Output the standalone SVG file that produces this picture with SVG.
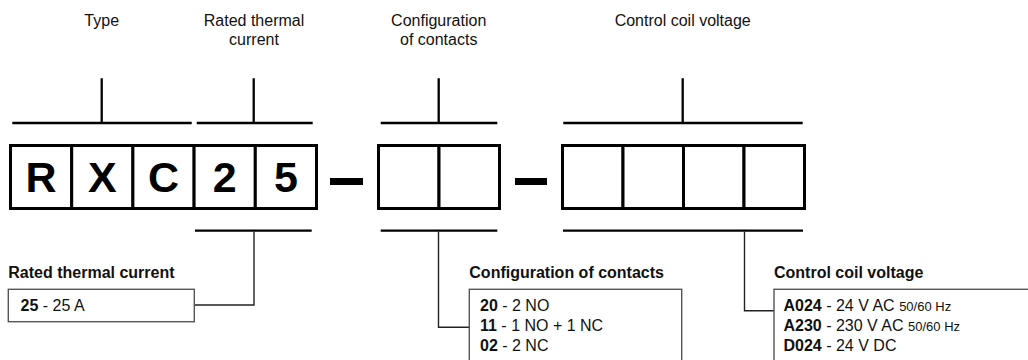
<svg xmlns="http://www.w3.org/2000/svg" width="1028" height="360" viewBox="0 0 1028 360">
<style>
.lbl{font-family:"Liberation Sans",Arial,sans-serif;font-size:16px;fill:#111}
.big{font-family:"Liberation Sans",Arial,sans-serif;font-size:43px;font-weight:bold;fill:#000}
.head{font-family:"Liberation Sans",Arial,sans-serif;font-size:16px;font-weight:bold;fill:#111}
.cell{fill:#fff;stroke:#000;stroke-width:3}
.bar{stroke:#000;stroke-width:2.3;fill:none}
.conn{stroke:#222;stroke-width:1.4;fill:none}
.box{fill:#fff;stroke:#555;stroke-width:1.4}
.sm{font-size:13px}
b,.b{font-weight:bold}
</style>
<rect width="1028" height="360" fill="#fff"/>

<g id="top-labels">
<text class="lbl" x="101.7" y="26" text-anchor="middle">Type</text>
<text class="lbl" x="254" y="26" text-anchor="middle">Rated thermal</text>
<text class="lbl" x="254" y="45" text-anchor="middle">current</text>
<text class="lbl" x="438.7" y="26" text-anchor="middle">Configuration</text>
<text class="lbl" x="438.7" y="45" text-anchor="middle">of contacts</text>
<text class="lbl" x="682.7" y="26" text-anchor="middle">Control coil voltage</text>
</g>

<g id="code">
<g id="group-type">
<rect class="cell" x="10.5" y="145.5" width="61.2" height="63"/>
<rect class="cell" x="71.7" y="145.5" width="61.2" height="63"/>
<rect class="cell" x="132.9" y="145.5" width="61.2" height="63"/>
<text class="big" x="41.1" y="191.5" text-anchor="middle">R</text>
<text class="big" x="102.3" y="191.5" text-anchor="middle">X</text>
<text class="big" x="163.5" y="191.5" text-anchor="middle">C</text>
</g>
<g id="group-current">
<rect class="cell" x="194.1" y="145.5" width="61.2" height="63"/>
<rect class="cell" x="255.3" y="145.5" width="61.2" height="63"/>
<text class="big" x="224.7" y="191.5" text-anchor="middle">2</text>
<text class="big" x="285.9" y="191.5" text-anchor="middle">5</text>
</g>
<rect x="330" y="178" width="33" height="7" fill="#000"/>
<g id="group-contacts">
<rect class="cell" x="378.5" y="145.5" width="60.5" height="63"/>
<rect class="cell" x="439" y="145.5" width="60.5" height="63"/>
</g>
<rect x="515" y="178" width="32" height="7" fill="#000"/>
<g id="group-voltage">
<rect class="cell" x="562.5" y="145.5" width="60.5" height="63"/>
<rect class="cell" x="623" y="145.5" width="60.5" height="63"/>
<rect class="cell" x="683.5" y="145.5" width="60.5" height="63"/>
<rect class="cell" x="744" y="145.5" width="60.5" height="63"/>
</g>
</g>

<g id="connectors">
<path class="bar" d="M12.3 123H191.7M101.7 78.3V123"/>
<path class="bar" d="M196.7 123H312.7M253.7 78.3V123"/>
<path class="bar" d="M380.7 123H497.3M438.7 78.3V123"/>
<path class="bar" d="M563.3 123H802.7M682.7 78.3V123"/>
<path class="bar" d="M195 230.7H311.7"/>
<path class="bar" d="M380.7 230.7H497.3"/>
<path class="bar" d="M563 230.7H803"/>
<path class="conn" d="M254 231.5V305H194.3"/>
<path class="conn" d="M438.5 231.5V327.3H469.3"/>
<path class="conn" d="M744.5 231.5V310.7H774"/>
</g>

<g id="legend-current">
<text class="head" x="8.3" y="278">Rated thermal current</text>
<rect class="box" x="8.3" y="289.3" width="186" height="32.4"/>
<text class="lbl" x="20.5" y="311"><tspan class="b">25</tspan> - 25 A</text>
</g>

<g id="legend-contacts">
<text class="head" x="469.3" y="278">Configuration of contacts</text>
<rect class="box" x="469.3" y="289.3" width="212.4" height="90"/>
<text class="lbl" x="480" y="311"><tspan class="b">20</tspan> - 2 NO</text>
<text class="lbl" x="480" y="331"><tspan class="b">11</tspan> - 1 NO + 1 NC</text>
<text class="lbl" x="480" y="351"><tspan class="b">02</tspan> - 2 NC</text>
</g>

<g id="legend-voltage">
<text class="head" x="774" y="278">Control coil voltage</text>
<rect class="box" x="774" y="289.3" width="280" height="90"/>
<text class="lbl" x="783.5" y="311"><tspan class="b">A024</tspan> - 24 V AC <tspan class="sm">50/60 Hz</tspan></text>
<text class="lbl" x="783.5" y="331"><tspan class="b">A230</tspan> - 230 V AC <tspan class="sm">50/60 Hz</tspan></text>
<text class="lbl" x="783.5" y="351"><tspan class="b">D024</tspan> - 24 V DC</text>
</g>
</svg>
